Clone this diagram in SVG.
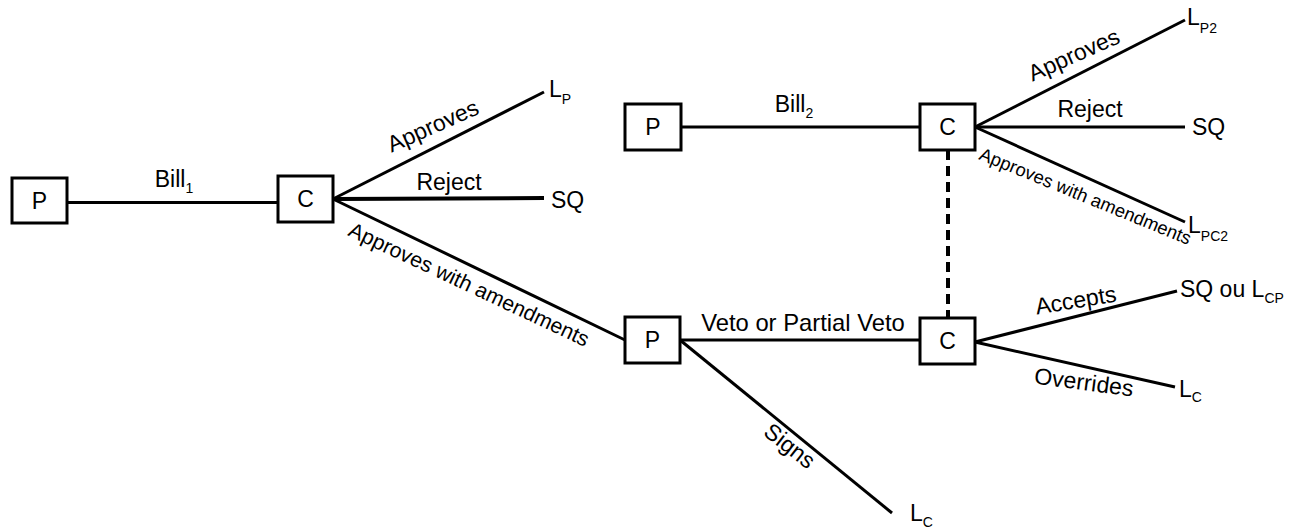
<svg xmlns="http://www.w3.org/2000/svg" width="1296" height="529" viewBox="0 0 1296 529">
<style>
  text { font-family: "Liberation Sans", Arial, sans-serif; font-size: 23px; fill: #000; }
  .box { fill: #fff; stroke: #000; stroke-width: 3; }
  .lbl { text-anchor: middle; }
  .sub { font-size: 14px; }
  .edge { stroke: #000; stroke-width: 3; fill: none; }
  .dash { stroke: #000; stroke-width: 4; stroke-dasharray: 10 6; fill: none; }
</style>
<rect width="1296" height="529" fill="#fff"/>
<g id="connectors">
  <line class="edge" x1="67" y1="202.5" x2="278" y2="202.5"/>
  <line class="edge" x1="333" y1="199" x2="544" y2="92"/>
  <line class="edge" x1="333" y1="199" x2="544" y2="198" style="stroke-width:4"/>
  <line class="edge" x1="333" y1="199" x2="625" y2="340"/>
  <line class="edge" x1="681" y1="127" x2="920" y2="127"/>
  <line class="edge" x1="975" y1="127" x2="1185" y2="20"/>
  <line class="edge" x1="975" y1="127" x2="1185" y2="127"/>
  <line class="edge" x1="975" y1="127" x2="1185" y2="222"/>
  <line class="edge" x1="680" y1="340" x2="920" y2="340"/>
  <line class="edge" x1="680" y1="340" x2="892" y2="513"/>
  <line class="edge" x1="975" y1="342" x2="1177" y2="291"/>
  <line class="edge" x1="975" y1="342" x2="1175" y2="387"/>
  <line class="dash" x1="948" y1="150" x2="948" y2="318"/>
</g>
<g id="edge-labels">
  <text class="lbl" x="174" y="187">Bill<tspan class="sub" dy="6">1</tspan></text>
  <text class="lbl" transform="translate(436,133) rotate(-24)">Approves</text>
  <text class="lbl" x="449" y="190">Reject</text>
  <text class="lbl" style="font-size:21.3px" transform="translate(466,291) rotate(25.2)">Approves with amendments</text>
  <text class="lbl" x="794" y="112">Bill<tspan class="sub" dy="6">2</tspan></text>
  <text class="lbl" transform="translate(1077,62) rotate(-24)">Approves</text>
  <text class="lbl" x="1090" y="117">Reject</text>
  <text class="lbl" style="font-size:18.4px" transform="translate(1083,202) rotate(22.3)">Approves with amendments</text>
  <text class="lbl" x="803" y="331" style="font-size:23.8px">Veto or Partial Veto</text>
  <text class="lbl" transform="translate(785,452) rotate(38)">Signs</text>
  <text class="lbl" transform="translate(1077,308) rotate(-9.3)">Accepts</text>
  <text class="lbl" transform="translate(1083,390) rotate(7.4)">Overrides</text>
</g>
<g id="outcomes">
  <text x="549" y="97">L<tspan class="sub" dy="7">P</tspan></text>
  <text x="551" y="208">SQ</text>
  <text x="1187" y="25">L<tspan class="sub" dy="8">P2</tspan></text>
  <text x="1192" y="135">SQ</text>
  <text x="1188" y="233">L<tspan class="sub" dy="8">PC2</tspan></text>
  <text x="1180" y="297">SQ ou L<tspan class="sub" dy="6">CP</tspan></text>
  <text x="1179" y="397">L<tspan class="sub" dy="5">C</tspan></text>
  <text x="910" y="521">L<tspan class="sub" dy="6">C</tspan></text>
</g>
<g id="node-p1">
  <rect class="box" x="12" y="178" width="55" height="45"/>
  <text class="lbl" x="39.5" y="209">P</text>
</g>
<g id="node-c1">
  <rect class="box" x="278" y="176" width="55" height="46"/>
  <text class="lbl" x="305.5" y="207">C</text>
</g>
<g id="node-p2">
  <rect class="box" x="625" y="317" width="55" height="46"/>
  <text class="lbl" x="652.5" y="348">P</text>
</g>
<g id="node-p3">
  <rect class="box" x="625" y="104" width="56" height="46"/>
  <text class="lbl" x="653" y="135">P</text>
</g>
<g id="node-c2">
  <rect class="box" x="920" y="104" width="55" height="46"/>
  <text class="lbl" x="947.5" y="135">C</text>
</g>
<g id="node-c3">
  <rect class="box" x="920" y="318" width="55" height="46"/>
  <text class="lbl" x="947.5" y="349">C</text>
</g>
</svg>
